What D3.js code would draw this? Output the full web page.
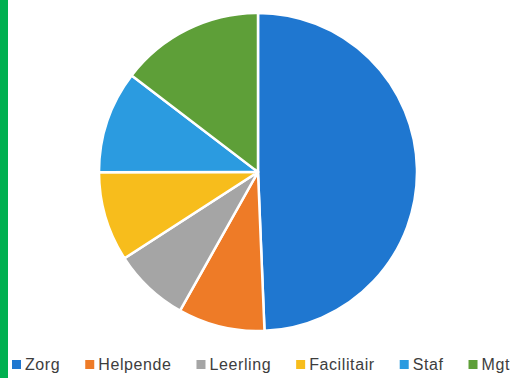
<!DOCTYPE html>
<html>
<head>
<meta charset="utf-8">
<script src="https://cdn.jsdelivr.net/npm/d3@7"></script>
<style>
  body { margin: 0; background: #fff; }
  svg { display: block; }
</style>
</head>
<body>
<div id="chart"></div>
<script>
const categories = ["Zorg", "Helpende", "Leerling", "Facilitair", "Staf", "Mgt"];
const values = [49.3, 8.8, 7.7, 9.1, 10.4, 14.6];
const colors = ["#1f77d0", "#ee7b27", "#a5a5a5", "#f7bd1c", "#2b9be0", "#5e9f38"];

const W = 520, H = 378;
const svg = d3.select("#chart").append("svg")
    .attr("width", W)
    .attr("height", H);

// green edge strip on the left
svg.append("rect")
    .attr("x", 0).attr("y", 0)
    .attr("width", 8).attr("height", H)
    .attr("fill", "#00b050");

const cx = 258, cy = 172, radius = 159;

const pie = d3.pie().sort(null).value(d => d.value);
const arc = d3.arc().innerRadius(0).outerRadius(radius);
const data = categories.map((c, i) => ({ name: c, value: values[i] }));

const color = d3.scaleOrdinal().domain(categories).range(colors);

svg.append("g")
    .attr("transform", `translate(${cx},${cy})`)
    .selectAll("path")
    .data(pie(data))
    .join("path")
    .attr("d", arc)
    .attr("fill", d => color(d.data.name))
    .attr("stroke", "#fff")
    .attr("stroke-width", 2.5)
    .attr("stroke-linejoin", "round");

// legend, spread between left and right edge using measured widths
const legend = svg.append("g")
    .attr("font-family", "Liberation Sans, Arial, sans-serif")
    .attr("font-size", 16)
    .attr("letter-spacing", 0.6);
const items = legend.selectAll("g")
    .data(categories)
    .join("g");
items.append("rect")
    .attr("width", 9).attr("height", 9)
    .attr("y", -10)
    .attr("fill", d => color(d));
items.append("text")
    .attr("x", 13)
    .attr("fill", "#3d3d3d")
    .text(d => d);

const left = 12, right = 510;
const widths = [];
items.each(function() { widths.push(this.getBBox().width); });
const gap = (right - left - d3.sum(widths)) / (widths.length - 1);
let xPos = left;
const offsets = widths.map(w => { const o = xPos; xPos += w + gap; return o; });
items.attr("transform", (d, i) => `translate(${offsets[i]},370)`);
</script>
</body>
</html>
